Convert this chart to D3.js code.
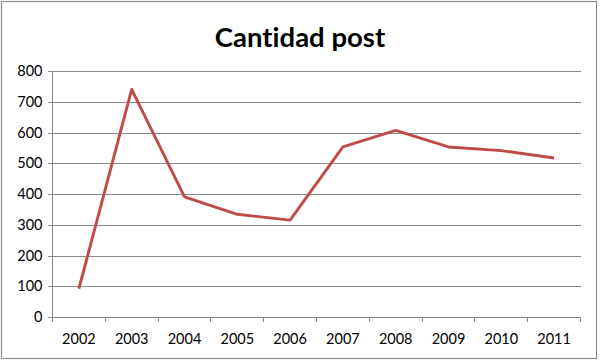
<!DOCTYPE html>
<html>
<head>
<meta charset="utf-8">
<script src="https://cdn.jsdelivr.net/npm/d3@7"></script>
<style>
  body { margin: 0; background: #fff; }
  svg { display: block; }
  text { font-variant-ligatures: none; }
</style>
</head>
<body>
<div id="scene"></div>
<script>
var years = ["2002", "2003", "2004", "2005", "2006", "2007", "2008", "2009", "2010", "2011"];
var posts = [92, 740, 391, 334, 315, 553, 607, 553, 541, 517];
var yTicks = [0, 100, 200, 300, 400, 500, 600, 700, 800];

var ctx = {
  w: 600,
  h: 361,
  left: 52.5,
  right: 580.5,
  top: 71,
  bottom: 317
};

var svg = d3.select("#scene").append("svg")
  .attr("width", ctx.w)
  .attr("height", ctx.h);

// outer frame
svg.append("rect")
  .attr("x", 1.5).attr("y", 1.5)
  .attr("width", 595).attr("height", 357)
  .attr("fill", "#fff")
  .attr("stroke", "#8c8c8c")
  .attr("stroke-width", 1.2);

svg.append("text")
  .attr("x", 300).attr("y", 47)
  .attr("text-anchor", "middle")
  .style("font-family", "Lato, 'Open Sans', sans-serif")
  .style("font-weight", "bold")
  .style("font-size", "27.5px")
  .attr("fill", "#000")
  .text("Cantidad post");

var x = d3.scaleBand().domain(years).range([ctx.left, ctx.right]);
var y = d3.scaleLinear().domain([0, 800]).range([ctx.bottom, ctx.top]);

// gridlines + y axis ticks
var yAxis = d3.axisLeft(y).tickValues(yTicks)
  .tickSize(-(ctx.right - ctx.left)).tickPadding(10)
  .tickFormat(d3.format("d"));
var gy = svg.append("g")
  .attr("transform", "translate(" + ctx.left + ",0)")
  .call(yAxis);
gy.select(".domain").remove();
gy.selectAll("line")
  .attr("x1", -5)
  .attr("stroke", "#8a8a8a")
  .attr("shape-rendering", "crispEdges");
gy.selectAll("text")
  .style("font-family", "Lato, 'Open Sans', sans-serif")
  .style("font-size", "14.5px")
  .attr("fill", "#000");

// y axis line
svg.append("line")
  .attr("x1", ctx.left).attr("x2", ctx.left)
  .attr("y1", ctx.top).attr("y2", ctx.bottom)
  .attr("stroke", "#8a8a8a")
  .attr("shape-rendering", "crispEdges");

// x axis with ticks between categories
var bounds = years.map(function(d) { return x(d); }).concat([ctx.right]);
var gx = svg.append("g");
gx.append("line")
  .attr("x1", ctx.left).attr("x2", ctx.right)
  .attr("y1", ctx.bottom).attr("y2", ctx.bottom)
  .attr("stroke", "#8a8a8a")
  .attr("shape-rendering", "crispEdges");
gx.selectAll("line.tk")
  .data(bounds)
  .enter().append("line")
  .attr("class", "tk")
  .attr("x1", function(d) { return d; }).attr("x2", function(d) { return d; })
  .attr("y1", ctx.bottom).attr("y2", ctx.bottom + 5)
  .attr("stroke", "#8a8a8a")
  .attr("shape-rendering", "crispEdges");
gx.selectAll("text")
  .data(years)
  .enter().append("text")
  .attr("x", function(d) { return x(d) + x.bandwidth() / 2; })
  .attr("y", ctx.bottom + 27)
  .attr("text-anchor", "middle")
  .style("font-family", "Lato, 'Open Sans', sans-serif")
  .style("font-size", "14.5px")
  .attr("fill", "#000")
  .text(function(d) { return d; });

var line = d3.line()
  .x(function(d, i) { return x(years[i]) + x.bandwidth() / 2; })
  .y(function(d) { return y(d); });

svg.append("path")
  .datum(posts)
  .attr("d", line)
  .attr("fill", "none")
  .attr("stroke", "#be4b48")
  .attr("stroke-width", 2.9)
  .attr("stroke-linejoin", "round");
</script>
</body>
</html>
